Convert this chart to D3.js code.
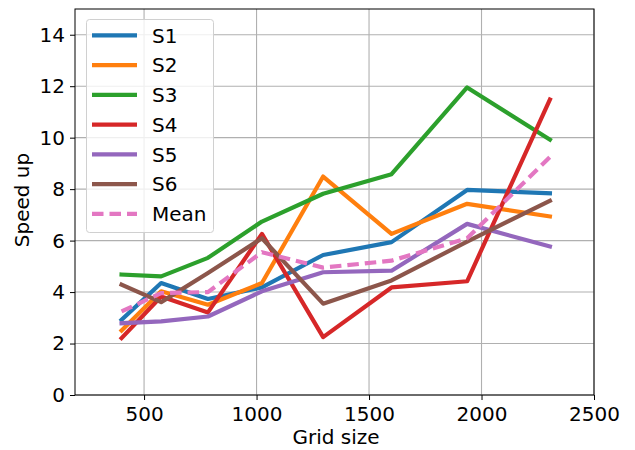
<!DOCTYPE html>
<html><head><meta charset="utf-8">
<script src="https://cdn.jsdelivr.net/npm/d3@7"></script>
<style>body{margin:0;background:#fff}svg{display:block}text{font-family:"DejaVu Sans",sans-serif}</style>
</head><body>
<script>
const gridSizes = [400, 576, 784, 1024, 1296, 1600, 1936, 2304];
const S1 = [2.92, 4.35, 3.73, 4.18, 5.44, 5.94, 7.97, 7.84];
const S2 = [2.51, 4.03, 3.51, 4.35, 8.49, 6.26, 7.43, 6.94];
const S3 = [4.68, 4.61, 5.33, 6.74, 7.82, 8.58, 11.95, 9.92];
const S4 = [2.21, 3.83, 3.21, 6.26, 2.25, 4.18, 4.42, 11.48];
const S5 = [2.79, 2.86, 3.05, 4.03, 4.77, 4.83, 6.65, 5.77];
const S6 = [4.29, 3.61, 4.74, 6.09, 3.55, 4.45, 5.96, 7.55];
const Mean = [3.25, 3.96, 4.00, 5.55, 4.95, 5.22, 6.09, 9.25];
const seriesNames = ["S1", "S2", "S3", "S4", "S5", "S6", "Mean"];
const seriesValues = [S1, S2, S3, S4, S5, S6, Mean];
const colors = ["#1f77b4", "#ff7f0e", "#2ca02c", "#d62728", "#9467bd", "#8c564b", "#e377c2"];
const xTicks = [500, 1000, 1500, 2000, 2500];
const yTicks = [0, 2, 4, 6, 8, 10, 12, 14];

const W = 635, H = 450;
const FS = 20;
const m = {left: 75, right: 594, top: 9, bottom: 395};
const svg = d3.select("body").append("svg").attr("width", W).attr("height", H);
const x = d3.scaleLinear().domain([193, 2500]).range([m.left, m.right]);
const y = d3.scaleLinear().domain([0, 15]).range([m.bottom, m.top]);

// grid
const g = svg.append("g");
g.selectAll(".vx").data(xTicks).join("line")
  .attr("x1", d => x(d)).attr("x2", d => x(d)).attr("y1", m.top).attr("y2", m.bottom)
  .attr("stroke", "#b0b0b0").attr("stroke-width", 1.1);
g.selectAll(".hy").data(yTicks).join("line")
  .attr("y1", d => y(d)).attr("y2", d => y(d)).attr("x1", m.left).attr("x2", m.right)
  .attr("stroke", "#b0b0b0").attr("stroke-width", 1.1);

// lines
const line = d3.line().x((d, i) => x(gridSizes[i])).y(d => y(d));
seriesValues.forEach((vals, k) => {
  svg.append("path").datum(vals).attr("d", line)
    .attr("fill", "none").attr("stroke", colors[k]).attr("stroke-width", 4.2)
    .attr("stroke-linejoin", "round").attr("stroke-linecap", k === 6 ? "butt" : "square")
    .attr("stroke-dasharray", k === 6 ? "11.5,6" : null);
});

// axes
const xAxis = d3.axisBottom(x).tickValues(xTicks).tickFormat(d3.format("d")).tickSize(5).tickPadding(7);
const yAxis = d3.axisLeft(y).tickValues(yTicks).tickFormat(d3.format("d")).tickSize(5).tickPadding(5);
const gx = svg.append("g").attr("transform", `translate(0,${m.bottom})`).call(xAxis);
const gy = svg.append("g").attr("transform", `translate(${m.left},0)`).call(yAxis);
[gx, gy].forEach(a => {
  a.select(".domain").remove();
  a.selectAll("text").attr("font-size", FS).attr("fill", "#000").attr("font-family", "DejaVu Sans");
  a.selectAll("line").attr("stroke", "#000").attr("stroke-width", 1);
});
svg.append("rect").attr("x", m.left).attr("y", m.top).attr("width", m.right - m.left).attr("height", m.bottom - m.top)
  .attr("fill", "none").attr("stroke", "#000").attr("stroke-width", 1);

svg.append("text").attr("x", 336).attr("y", 444).attr("text-anchor", "middle")
  .attr("font-size", FS).text("Grid size");
svg.append("text").attr("transform", `translate(29,200) rotate(-90)`).attr("text-anchor", "middle")
  .attr("font-size", FS).text("Speed up");

// legend
const lg = svg.append("g");
lg.append("rect").attr("x", 86.5).attr("y", 19.5).attr("width", 127).attr("height", 213).attr("rx", 3)
  .attr("fill", "#fff").attr("fill-opacity", 0.8).attr("stroke", "#d0d0d0").attr("stroke-width", 1);
seriesNames.forEach((n, k) => {
  const cy = 35.3 + k * 29.75;
  lg.append("line").attr("x1", 92).attr("x2", 137).attr("y1", cy).attr("y2", cy)
    .attr("stroke", colors[k]).attr("stroke-width", 4.2)
    .attr("stroke-dasharray", k === 6 ? "11.5,6" : null);
  lg.append("text").attr("x", 152).attr("y", cy).attr("dy", "0.36em").attr("font-size", FS).text(n);
});
</script>
</body></html>
